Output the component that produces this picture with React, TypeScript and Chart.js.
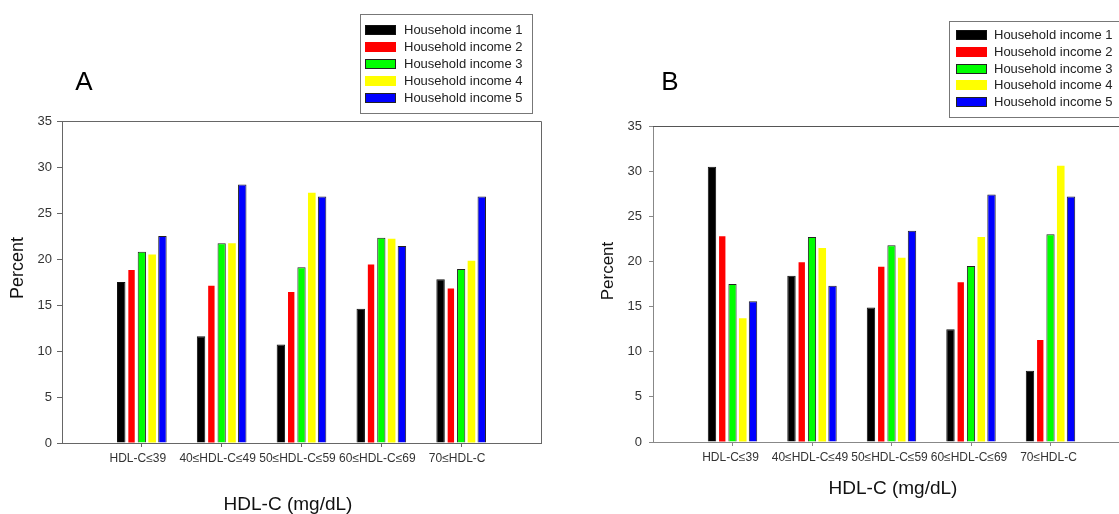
import React, { useEffect, useRef } from 'react';
import { Chart, registerables } from 'chart.js';

Chart.register(...registerables);

const FONT = '"Liberation Sans", Arial, Helvetica, sans-serif';

// ---------- data ----------
const categories = ['HDL-C≤39', '40≤HDL-C≤49', '50≤HDL-C≤59', '60≤HDL-C≤69', '70≤HDL-C'];
const seriesNames = [
  'Household income 1',
  'Household income 2',
  'Household income 3',
  'Household income 4',
  'Household income 5',
];
const xAxisTitle = 'HDL-C (mg/dL)';
const yAxisTitle = 'Percent';
const yMin = 0;
const yMax = 35;
const yStep = 5;

const panelA_income1 = [17.5, 11.6, 10.7, 14.6, 17.8];
const panelA_income2 = [18.8, 17.1, 16.4, 19.4, 16.8];
const panelA_income3 = [20.8, 21.7, 19.1, 22.3, 18.9];
const panelA_income4 = [20.5, 21.7, 27.2, 22.2, 19.8];
const panelA_income5 = [22.5, 28.1, 26.8, 21.4, 26.8];

const panelB_income1 = [30.5, 18.4, 14.9, 12.5, 7.9];
const panelB_income2 = [22.8, 19.9, 19.4, 17.7, 11.3];
const panelB_income3 = [17.5, 22.7, 21.8, 19.5, 23.0];
const panelB_income4 = [13.7, 21.5, 20.4, 22.7, 30.6];
const panelB_income5 = [15.6, 17.3, 23.4, 27.4, 27.2];

// ---------- styles ----------
const seriesColors = ['#000000', '#ff0000', '#00ff00', '#ffff00', '#0000ff'];
const seriesBorders: (string | null)[] = ['#111111', null, '#222222', null, '#222222'];
const seriesBarPct = [0.82, 0.62, 0.8, 0.74, 0.82];

type Layout = {
  letter: string;
  pageLeft: number;
  width: number;
  height: number;
  area: { left: number; right: number; top: number; bottom: number };
  letterPos: [number, number];
  letterSize: number;
  yTitlePos: [number, number];
  yTitleSize: number;
  xTitlePos: [number, number];
  xTitleSize: number;
  yTickLen: number;
  yTickPad: number;
  xLabelOffset: number;
  axisColor: string;
  frameColor: string;
  legendBox: { x: number; y: number; w: number; h: number };
  swatchX: number;
  swatchW: number;
  swatchH: number;
  textX: number;
  row0: number;
  rowStep: number;
};

const layoutA: Layout = {
  letter: 'A',
  pageLeft: 0,
  width: 560,
  height: 514,
  area: { left: 62, right: 541, top: 121, bottom: 443 },
  letterPos: [84, 83],
  letterSize: 26,
  yTitlePos: [18, 268],
  yTitleSize: 18,
  xTitlePos: [288, 505],
  xTitleSize: 19,
  yTickLen: 5,
  yTickPad: 5,
  xLabelOffset: -4,
  axisColor: '#666666',
  frameColor: '#666666',
  legendBox: { x: 360, y: 14, w: 172, h: 99 },
  swatchX: 365,
  swatchW: 31,
  swatchH: 10,
  textX: 404,
  row0: 30,
  rowStep: 17,
};

const layoutB: Layout = {
  letter: 'B',
  pageLeft: 560,
  width: 600,
  height: 514,
  area: { left: 653, right: 1130, top: 126, bottom: 442 },
  letterPos: [670, 83],
  letterSize: 26,
  yTitlePos: [608, 271],
  yTitleSize: 17,
  xTitlePos: [893, 489],
  xTitleSize: 19,
  yTickLen: 4,
  yTickPad: 7,
  xLabelOffset: -2,
  axisColor: '#888888',
  frameColor: '#555555',
  legendBox: { x: 949, y: 21, w: 220, h: 96 },
  swatchX: 956,
  swatchW: 31,
  swatchH: 10,
  textX: 994,
  row0: 35,
  rowStep: 16.8,
};

const decorPlugin = (L: Layout) => ({
  id: 'panelDecor',
  afterDraw(chart: any) {
    const ctx: CanvasRenderingContext2D = chart.ctx;
    const ox = L.pageLeft;
    const a = chart.chartArea;
    ctx.save();
    // frame: top and right
    ctx.strokeStyle = L.frameColor;
    ctx.lineWidth = 1;
    ctx.beginPath();
    const t = Math.round(a.top) + 0.5;
    const r = Math.round(a.right) + 0.5;
    ctx.moveTo(Math.round(a.left), t);
    ctx.lineTo(r, t);
    ctx.lineTo(r, Math.round(a.bottom));
    ctx.stroke();

    // panel letter
    ctx.fillStyle = '#000';
    ctx.font = `${L.letterSize}px ${FONT}`;
    ctx.textAlign = 'center';
    ctx.textBaseline = 'middle';
    ctx.fillText(L.letter, L.letterPos[0] - ox, L.letterPos[1]);

    // axis titles
    ctx.fillStyle = '#111';
    ctx.font = `${L.xTitleSize}px ${FONT}`;
    ctx.fillText(xAxisTitle, L.xTitlePos[0] - ox, L.xTitlePos[1]);
    ctx.save();
    ctx.translate(L.yTitlePos[0] - ox, L.yTitlePos[1]);
    ctx.rotate(-Math.PI / 2);
    ctx.font = `${L.yTitleSize}px ${FONT}`;
    ctx.fillText(yAxisTitle, 0, 0);
    ctx.restore();

    // legend
    const b = L.legendBox;
    ctx.strokeStyle = '#777';
    ctx.lineWidth = 1;
    ctx.strokeRect(Math.round(b.x - ox) + 0.5, Math.round(b.y) + 0.5, b.w, b.h);
    ctx.font = `13px ${FONT}`;
    ctx.textAlign = 'left';
    ctx.textBaseline = 'middle';
    chart.data.datasets.forEach((ds: any, i: number) => {
      const cy = L.row0 + i * L.rowStep;
      const sx = L.swatchX - ox;
      const sy = Math.round(cy - L.swatchH / 2);
      ctx.fillStyle = ds.backgroundColor;
      ctx.fillRect(sx, sy, L.swatchW, L.swatchH);
      if (seriesBorders[i]) {
        ctx.strokeStyle = seriesBorders[i] as string;
        ctx.strokeRect(sx + 0.5, sy + 0.5, L.swatchW - 1, L.swatchH - 1);
      }
      ctx.fillStyle = '#222';
      ctx.fillText(ds.label, L.textX - ox, cy + 0.5);
    });
    ctx.restore();
  },
});

function buildConfig(L: Layout, series: number[][]): any {
  const labels = ['', ...categories, ''];
  const lastIdx = labels.length - 1;
  return {
    type: 'bar',
    data: {
      labels,
      datasets: series.map((vals, i) => ({
        label: seriesNames[i],
        data: [null, ...vals, null],
        backgroundColor: seriesColors[i],
        borderColor: seriesBorders[i] ?? seriesColors[i],
        borderWidth: seriesBorders[i] ? 1 : 0,
        barPercentage: seriesBarPct[i],
        categoryPercentage: 0.645,
      })),
    },
    options: {
      responsive: false,
      maintainAspectRatio: false,
      animation: false,
      events: [],
      layout: {
        padding: {
          left: 0,
          right: L.pageLeft + L.width - L.area.right,
          top: L.area.top,
          bottom: 0,
        },
      },
      plugins: {
        legend: { display: false },
        tooltip: { enabled: false },
        title: { display: false },
      },
      scales: {
        x: {
          type: 'category',
          offset: false,
          grid: {
            offset: false,
            drawOnChartArea: false,
            drawTicks: true,
            tickLength: 4,
            color: (c: any) => (c.index === 0 || c.index === lastIdx ? 'rgba(0,0,0,0)' : L.axisColor),
          },
          border: { display: true, color: L.axisColor },
          ticks: {
            autoSkip: false,
            maxRotation: 0,
            minRotation: 0,
            padding: 4,
            labelOffset: L.xLabelOffset,
            color: '#333',
            font: { family: FONT, size: 12 },
          },
          afterFit: (s: any) => {
            s.height = L.height - L.area.bottom;
          },
        },
        y: {
          min: yMin,
          max: yMax,
          ticks: {
            stepSize: yStep,
            padding: L.yTickPad,
            color: '#333',
            font: { family: FONT, size: 13 },
          },
          grid: {
            drawOnChartArea: false,
            drawTicks: true,
            tickLength: L.yTickLen,
            color: L.axisColor,
          },
          border: { display: true, color: L.axisColor },
          afterFit: (s: any) => {
            s.width = L.area.left - L.pageLeft;
          },
        },
      },
    },
    plugins: [decorPlugin(L)],
  };
}

function Panel({ layout, series }: { layout: Layout; series: number[][] }) {
  const ref = useRef<HTMLCanvasElement | null>(null);
  useEffect(() => {
    if (!ref.current) return;
    const chart = new Chart(ref.current, buildConfig(layout, series));
    return () => chart.destroy();
  }, [layout, series]);
  return (
    <canvas
      ref={ref}
      width={layout.width}
      height={layout.height}
      style={{
        position: 'absolute',
        left: layout.pageLeft,
        top: 0,
        width: layout.width,
        height: layout.height,
      }}
    />
  );
}

const seriesA = [panelA_income1, panelA_income2, panelA_income3, panelA_income4, panelA_income5];
const seriesB = [panelB_income1, panelB_income2, panelB_income3, panelB_income4, panelB_income5];

export default function App() {
  return (
    <div
      style={{
        position: 'fixed',
        left: 0,
        top: 0,
        width: 1119,
        height: 514,
        overflow: 'hidden',
        background: '#ffffff',
      }}
    >
      <Panel layout={layoutA} series={seriesA} />
      <Panel layout={layoutB} series={seriesB} />
    </div>
  );
}
